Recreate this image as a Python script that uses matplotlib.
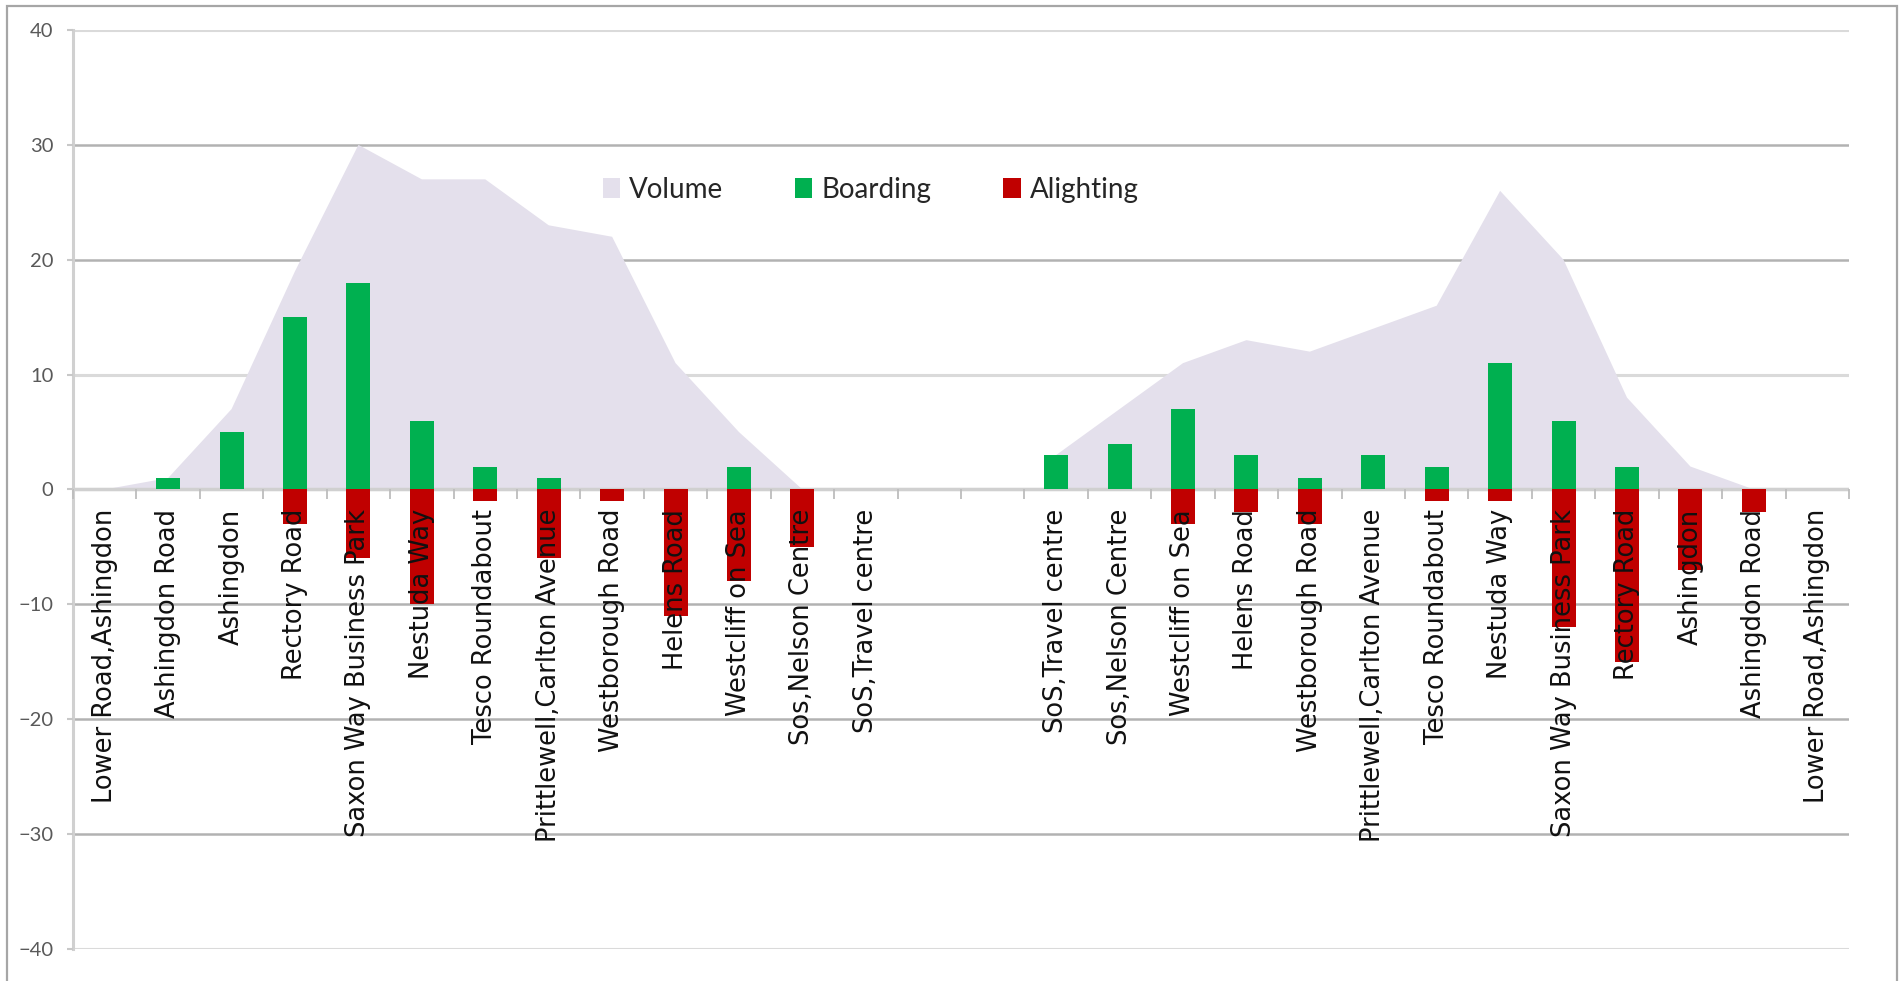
import matplotlib
matplotlib.use("Agg")
import matplotlib.pyplot as plt
from matplotlib.patches import Rectangle, Patch
import numpy as np

# ---- data ----
stops = [
    "Lower Road,Ashingdon", "Ashingdon Road", "Ashingdon", "Rectory Road",
    "Saxon Way Business Park", "Nestuda Way", "Tesco Roundabout",
    "Prittlewell,Carlton Avenue", "Westborough Road", "Helens Road",
    "Westcliff on Sea", "Sos,Nelson Centre", "SoS,Travel centre",
    "", "",
    "SoS,Travel centre", "Sos,Nelson Centre", "Westcliff on Sea", "Helens Road",
    "Westborough Road", "Prittlewell,Carlton Avenue", "Tesco Roundabout",
    "Nestuda Way", "Saxon Way Business Park", "Rectory Road", "Ashingdon",
    "Ashingdon Road", "Lower Road,Ashingdon",
]
volume = [0, 1, 7, 19, 30, 27, 27, 23, 22, 11, 5, 0, 0,
          None, None,
          3, 7, 11, 13, 12, 14, 16, 26, 20, 8, 2, 0, 0]
boarding = [0, 1, 5, 15, 18, 6, 2, 1, 0, 0, 2, 0, 0,
            0, 0,
            3, 4, 7, 3, 1, 3, 2, 11, 6, 2, 0, 0, 0]
alighting = [0, 0, 0, 3, 6, 10, 1, 6, 1, 11, 8, 5, 0,
             0, 0,
             0, 0, 3, 2, 3, 0, 1, 1, 12, 15, 7, 2, 0]
yticks = [-40, -30, -20, -10, 0, 10, 20, 30, 40]
series_names = ["Volume", "Boarding", "Alighting"]

C_VOL = "#E4E0EC"
C_BOARD = "#00B050"
C_ALIGHT = "#C00000"

W, H = 1901, 981
fig = plt.figure(figsize=(W / 100, H / 100), dpi=100)
ax = fig.add_axes([73 / W, 1 - 949 / H, (1849 - 73) / W, (949 - 30) / H])

x = np.arange(len(stops))
vol = np.array([np.nan if v is None else v for v in volume], dtype=float)
ax.fill_between(x, 0, vol, color=C_VOL, linewidth=0, zorder=0.5)
ax.bar(x, boarding, width=0.38, color=C_BOARD, linewidth=0, zorder=1)
ax.bar(x, [-a for a in alighting], width=0.38, color=C_ALIGHT,
       linewidth=0, zorder=1)

ax.set_xlim(-0.5, len(stops) - 0.5)
ax.set_ylim(-40, 40)
ax.set_yticks(yticks)

# gridlines (behind area)
light = {40, 10, 0, -40}
for yv in yticks:
    ax.axhline(yv, color="#DADADA" if yv in light else "#B2B2B2",
               lw=2.2 if yv in light else 1.8, zorder=0.2)
ax.axhline(0, color="#D0D0D0", lw=2.5, zorder=0.8)

for s in ["top", "right"]:
    ax.spines[s].set_visible(False)
ax.spines["bottom"].set_position(("data", 0))
ax.spines["bottom"].set_visible(False)
ax.spines["left"].set_color("#D0D0D0")
ax.spines["left"].set_linewidth(2.2)
ax.set_axisbelow(False)

ax.set_xticks(x)
ax.set_xticklabels(stops, rotation=90, fontsize=18.5, family="DejaVu Sans",
                   color="#111111")
ax.set_xticks(np.arange(-0.5, len(stops)), minor=True)
ax.tick_params(axis="x", which="major", length=0, pad=14)
ax.tick_params(axis="x", which="minor", length=7, width=1.3, color="#BDBDBD",
               direction="out")
ax.tick_params(axis="y", length=4, width=1.5, color="#C8C8C8", pad=10,
               labelsize=14.5, labelcolor="#595959")
for lab in ax.get_yticklabels():
    lab.set_family("Lato")

handles = [Patch(facecolor=c, edgecolor="none") for c in (C_VOL, C_BOARD, C_ALIGHT)]
leg = ax.legend(handles, series_names, loc="center", bbox_to_anchor=(0.449, 0.826),
                ncol=3, frameon=False, prop={"family": "Lato", "size": 20},
                handlelength=0.62, handleheight=0.72, handletextpad=0.32,
                columnspacing=2.6)
for t in leg.get_texts():
    t.set_color("#262626")

# outer chart border
fig.patches.append(Rectangle((7 / W, -0.05), (1897 - 7) / W, 1.05 + (1 - 6 / H) - 1,
                             transform=fig.transFigure, fill=False,
                             edgecolor="#A6A6A6", linewidth=1.6))

fig.savefig("out.png", dpi=100)
